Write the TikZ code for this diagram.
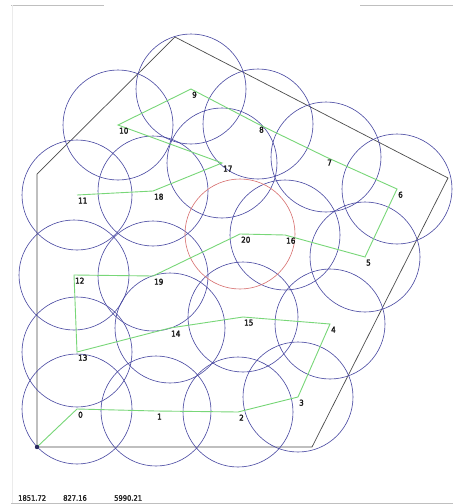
\documentclass[tikz,border=0pt]{standalone}
\usepackage{fontspec}
\newfontfamily\labfont{DejaVu Sans Condensed}[FakeBold=2.5]
\definecolor{circblue}{RGB}{70,70,160}
\definecolor{routegreen}{RGB}{120,215,120}
\definecolor{redc}{RGB}{215,110,110}
\begin{document}
\begin{tikzpicture}[x=1pt,y=-1pt,
  circ/.style={draw=circblue, line width=0.6pt},
  redcirc/.style={draw=redc, line width=0.6pt},
  route/.style={draw=routegreen, line width=0.9pt},
  poly/.style={draw=black!70, line width=0.7pt},
  frame/.style={draw=black!25, line width=0.8pt},
  lab/.style={font=\labfont\fontsize{8}{9}\selectfont, anchor=north west, inner sep=0pt, text=black!90},
  txt/.style={font=\labfont\fontsize{7.5}{8}\selectfont, anchor=west, inner sep=0pt, text=black!85}]
\useasboundingbox (0,0) rectangle (453,504);
\fill[white] (0,0) rectangle (453,504);
% frame lines
\draw[frame] (11,5) -- (104,5);
\draw[frame] (360,5) -- (453,5);
\draw[frame] (11,503) -- (453,503);
\draw[draw=black!8, line width=0.8pt] (12,5) -- (12,503);
% points
\coordinate (S) at (37,447);
\coordinate (p0) at (77,409);
\coordinate (p1) at (156,411);
\coordinate (p2) at (238,412);
\coordinate (p3) at (298,397);
\coordinate (p4) at (330,324);
\coordinate (p5) at (365,257);
\coordinate (p6) at (397,189);
\coordinate (p7) at (326,157);
\coordinate (p8) at (258,124);
\coordinate (p9) at (191,89);
\coordinate (p10) at (118,125);
\coordinate (p11) at (77,195);
\coordinate (p12) at (74,275);
\coordinate (p13) at (77,352);
\coordinate (p14) at (170,328);
\coordinate (p15) at (243,317);
\coordinate (p16) at (285,235);
\coordinate (p17) at (222,163);
\coordinate (p18) at (153,191);
\coordinate (p19) at (153,276);
\coordinate (p20) at (240,234);
% polygon corners
\coordinate (c1) at (312,447);
\coordinate (c2) at (448,178);
\coordinate (c3) at (175,37);
\coordinate (c4) at (37,174);
\draw[poly] (S) -- (c1) -- (c2) -- (c3) -- (c4) -- cycle;
% circles
\foreach \i in {0,...,19} {\draw[circ] (p\i) circle[radius=55pt];}
\draw[redcirc] (p20) circle[radius=55pt];
% route
\draw[route] (S) -- (p0) -- (p1) -- (p2) -- (p3) -- (p4) -- (p15) -- (p14) -- (p13) -- (p12) -- (p19) -- (p20) -- (p16) -- (p5) -- (p6) -- (p7) -- (p8) -- (p9) -- (p10) -- (p17) -- (p18) -- (p11);
% origin marker
\fill[circblue!60!black] (S) circle[radius=2.2pt];
% labels
\foreach \i in {0,...,20} {\node[lab] (l\i) at ([shift={(1,2.5)}]p\i) {\i};}
% bottom text
\node[txt] (t1) at (18,498) {1851.72};
\node[txt] (t2) at (63,498) {827.16};
\node[txt] (t3) at (114,498) {5990.21};
\end{tikzpicture}
\end{document}
